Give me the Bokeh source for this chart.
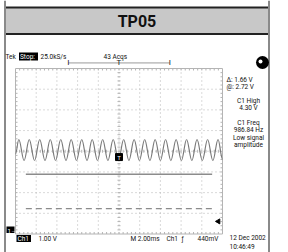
from bokeh.plotting import figure
from bokeh.models import Range1d
from bokeh.core.properties import value
from bokeh.embed import file_html
from bokeh.resources import INLINE

# ---------------- data ----------------
title_text = "TP05"
ms_per_div = 2.0
volts_per_div = 1.0
n_xdiv, n_ydiv = 10, 8
# waveform extrema (time in ms relative to trigger, volts)
wave_t = [-10.0, -9.68, -9.17, -8.67, -8.16, -7.66, -7.15, -6.64, -6.13, -5.63, -5.12,
          -4.62, -4.11, -3.60, -3.09, -2.59, -2.08, -1.58, -1.07, -0.56, -0.05,
          0.45, 0.96, 1.46, 1.97, 2.48, 2.99, 3.49, 4.00, 4.50, 5.01, 5.52, 6.03,
          6.53, 7.04, 7.54, 8.05, 8.56, 9.07, 9.57, 10.0]
wave_v = [3.70, 4.40, 3.38, 4.40, 3.38, 4.40, 3.38, 4.40, 3.38, 4.40, 3.38,
          4.40, 3.38, 4.40, 3.38, 4.40, 3.38, 4.40, 3.38, 4.40, 3.38,
          4.40, 3.38, 4.40, 3.38, 4.40, 3.38, 4.40, 3.38, 4.40, 3.38, 4.40, 3.38,
          4.40, 3.38, 4.40, 3.38, 4.40, 3.38, 4.40, 3.44]
cursor_at_v = 2.72
cursor_delta_v = 1.66
cursor_span_ms = [-9.0, 9.0]
trigger_level_v = 0.44
trigger_t_ms = 0.0
record_view_ms = [-4.9, 4.9]

top_texts = ["Tek", "Stop:", "25.0kS/s", "43 Acqs"]
right_texts = ["\u0394: 1.66 V", "@: 2.72 V", "C1 High", "4.30 V",
               "C1 Freq", "986.84 Hz", "Low signal", "amplitude"]
bottom_texts = ["Ch1", "1.00 V", "M 2.00ms", "Ch1", "\u0192", "440mV"]
date_texts = ["12 Dec 2002", "10:46:49"]

# ---------------- layout (page pixel coordinates) ----------------
W, H = 288, 252
GX0, GX1 = 15.0, 222.0      # graticule left/right
GY0, GY1 = 68.0, 233.5      # graticule top/bottom
GROUND_Y = 230.0            # ch1 ground level
ppms = (GX1 - GX0) / (n_xdiv * ms_per_div)
ppv = (GY1 - GY0) / (n_ydiv * volts_per_div)
dx = (GX1 - GX0) / n_xdiv
dy = (GY1 - GY0) / n_ydiv

p = figure(width=W, height=H, output_backend="svg", toolbar_location=None,
           x_range=Range1d(0, W), y_range=Range1d(H, 0),
           min_border=0, outline_line_color=None, background_fill_color="white",
           border_fill_color="white")
p.axis.visible = False
p.grid.visible = False
p.extra_x_ranges = {"ms": Range1d(-10 + (0 - GX0) / ppms, -10 + (W - GX0) / ppms)}
p.extra_y_ranges = {"V": Range1d((GROUND_Y - H) / ppv, (GROUND_Y - 0) / ppv)}

FONT = "Roboto"

# outer frame and title band
p.quad(left=[4], right=[268], top=[7], bottom=[33.5], fill_color="#c8c8c8", line_color=None)
p.segment(x0=[4, 4], y0=[7, 33.5], x1=[268, 268], y1=[7, 33.5], line_color="#222222", line_width=2)
p.segment(x0=[4.5, 268.5], y0=[0, 0], x1=[4.5, 268.5], y1=[H, H], line_color="#8a8a8a", line_width=2)
p.text(x=[136.5], y=[20.5], text=[title_text], text_font=value(FONT), text_font_style="bold",
       text_font_size="16px", text_align="center", text_baseline="middle", text_color="#111111")

# graticule
gcol = "#b4b4b4"
p.segment(x0=[GX0, GX0, GX0, GX1], y0=[GY0, GY1, GY0, GY0], x1=[GX1, GX1, GX0, GX1],
          y1=[GY0, GY1, GY1, GY1], line_color=gcol, line_width=1)
vx = [GX0 + k * dx for k in range(1, n_xdiv)]
hy = [GY0 + k * dy for k in range(1, n_ydiv)]
p.segment(x0=vx, y0=[GY0] * len(vx), x1=vx, y1=[GY1] * len(vx), line_color=gcol,
          line_dash="1 3", line_width=1)
p.segment(x0=[GX0] * len(hy), y0=hy, x1=[GX1] * len(hy), y1=hy, line_color=gcol,
          line_dash="1 3", line_width=1)
# minor ticks on edges and centre lines
mx = [GX0 + k * dx / 5 for k in range(1, n_xdiv * 5)]
my = [GY0 + k * dy / 5 for k in range(1, n_ydiv * 5)]
cx = GX0 + 5 * dx
cy = GY0 + 4 * dy
tx0, ty0, tx1, ty1 = [], [], [], []
for x in mx:
    tx0 += [x, x, x]; ty0 += [GY0, GY1 - 2, cy - 1.5]; tx1 += [x, x, x]; ty1 += [GY0 + 2, GY1, cy + 1.5]
for y in my:
    tx0 += [GX0, GX1 - 2, cx - 1.5]; ty0 += [y, y, y]; tx1 += [GX0 + 2, GX1, cx + 1.5]; ty1 += [y, y, y]
p.segment(x0=tx0, y0=ty0, x1=tx1, y1=ty1, line_color=gcol, line_width=1)

# waveform (cosine-shaped bezier between extrema)
a = 0.364
bx0, by0, bx1, by1, c0x, c0y, c1x, c1y = [], [], [], [], [], [], [], []
for i in range(len(wave_t) - 1):
    t0, t1, v0, v1 = wave_t[i], wave_t[i + 1], wave_v[i], wave_v[i + 1]
    h = t1 - t0
    bx0.append(t0); by0.append(v0); bx1.append(t1); by1.append(v1)
    c0x.append(t0 + a * h); c0y.append(v0); c1x.append(t1 - a * h); c1y.append(v1)
p.bezier(x0=bx0, y0=by0, x1=bx1, y1=by1, cx0=c0x, cy0=c0y, cx1=c1x, cy1=c1y,
         line_color="#7a7a7a", line_width=1.2, x_range_name="ms", y_range_name="V")

# cursors
p.line(x=cursor_span_ms, y=[cursor_at_v] * 2, line_color="#8c8c8c", line_width=1.3,
       x_range_name="ms", y_range_name="V")
p.line(x=cursor_span_ms, y=[cursor_at_v - cursor_delta_v] * 2, line_color="#8c8c8c",
       line_width=1.3, line_dash="6 4", x_range_name="ms", y_range_name="V")

# record view bar and trigger position
p.line(x=record_view_ms, y=[8.1, 8.1], line_color="#9a9a9a", line_width=1,
       x_range_name="ms", y_range_name="V")
p.text(x=record_view_ms, y=[8.1, 8.1], text=["I", "I"], text_font=value(FONT),
       text_font_size="8px", text_align="center", text_baseline="middle", text_color="#222222",
       x_range_name="ms", y_range_name="V")
p.text(x=[trigger_t_ms], y=[8.1], text=["T"], text_font=value(FONT), text_font_size="8px",
       text_align="center", text_baseline="middle", text_color="#222222",
       x_range_name="ms", y_range_name="V")
p.scatter(x=[trigger_t_ms], y=[3.55], marker="square", size=7, fill_color="black",
          line_color="black", x_range_name="ms", y_range_name="V")
p.text(x=[trigger_t_ms], y=[3.55], text=["T"], text_font=value(FONT), text_font_size="6px",
       text_align="center", text_baseline="middle", text_color="white",
       x_range_name="ms", y_range_name="V")
# trigger level arrow
p.scatter(x=[9.6], y=[trigger_level_v], marker="triangle", angle=1.5708, size=5,
          fill_color="black", line_color="black", x_range_name="ms", y_range_name="V")
# ground marker
p.quad(left=[6], right=[14], top=[226], bottom=[232.5], fill_color="black", line_color=None)
p.text(x=[7], y=[229.5], text=["1\u2192"], text_font=value(FONT), text_font_size="6px",
       text_align="left", text_baseline="middle", text_color="white")

SMALL = "6.5px"
# top status line
p.text(x=[5], y=[56], text=[top_texts[0]], text_font=value(FONT), text_font_size=SMALL,
       text_baseline="middle", text_color="#111111")
p.quad(left=[18.5], right=[37.5], top=[52], bottom=[60], fill_color="black", line_color=None)
p.text(x=[19.5], y=[56], text=[top_texts[1]], text_font=value(FONT), text_font_size=SMALL,
       text_baseline="middle", text_color="white")
p.text(x=[40, 103], y=[56, 56], text=top_texts[2:], text_font=value(FONT),
       text_font_size=SMALL, text_baseline="middle", text_color="#111111")

# acquisition icon
p.scatter(x=[262], y=[62], marker="circle", size=13, fill_color="black", line_color=None)
p.scatter(x=[260], y=[61], marker="circle", size=4, fill_color="white", line_color=None)

# right readouts
p.text(x=[226, 226], y=[79, 86.5], text=right_texts[:2], text_font=value(FONT),
       text_font_size=SMALL, text_baseline="middle", text_color="#111111")
p.text(x=[248] * 6, y=[100, 107.5, 122, 129.5, 137, 144.5], text=right_texts[2:],
       text_font=value(FONT), text_font_size=SMALL, text_align="center",
       text_baseline="middle", text_color="#111111")

# bottom line
p.quad(left=[16], right=[30.5], top=[234.5], bottom=[241.5], fill_color="black", line_color=None)
p.text(x=[17], y=[238], text=[bottom_texts[0]], text_font=value(FONT), text_font_size=SMALL,
       text_baseline="middle", text_color="white")
p.text(x=[38, 130, 166, 181, 197], y=[238] * 5, text=bottom_texts[1:], text_font=value(FONT),
       text_font_size=SMALL, text_baseline="middle", text_color="#111111")
p.text(x=[229, 229], y=[237, 246], text=date_texts, text_font=value(FONT),
       text_font_size=SMALL, text_baseline="middle", text_color="#111111")

open("out.html", "w").write(file_html(p, INLINE))
